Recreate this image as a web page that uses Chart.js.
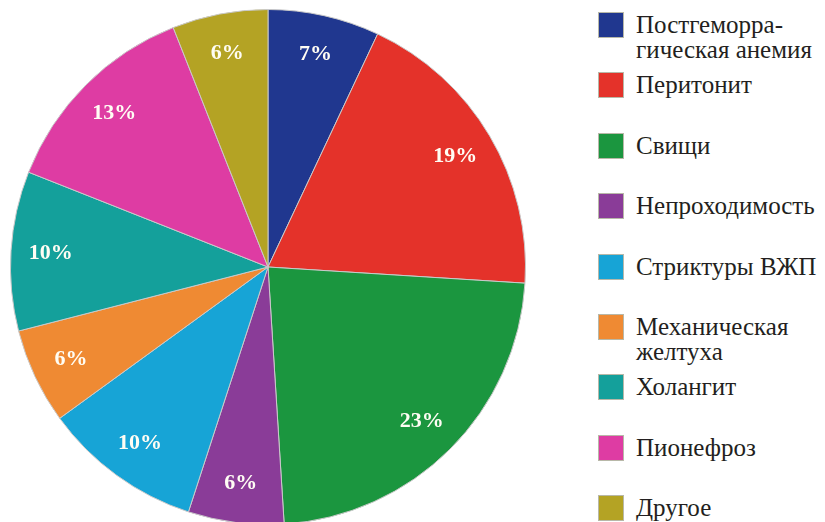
<!DOCTYPE html>
<html>
<head>
<meta charset="utf-8">
<script src="https://cdn.jsdelivr.net/npm/chart.js@4"></script>
<style>
  html, body { margin: 0; padding: 0; background: #fff; overflow: hidden; }
  body { width: 825px; height: 522px; position: relative; font-family: 'Liberation Serif', serif; }
  #pieBox { position: absolute; left: 10px; top: 9px; width: 516px; height: 516px; }
  #legend { position: absolute; left: 598px; top: 0; width: 227px; height: 522px; }
  .item { position: absolute; left: 0; display: flex; align-items: flex-start; }
  .box { width: 26px; height: 26px; box-sizing: border-box; border: 1px solid #b8b8a8; flex: none; }
  .txt { margin-left: 12px; font-size: 25px; line-height: 25px; color: #231f20; white-space: pre; margin-top: 0px; }
</style>
</head>
<body>
<div id="pieBox"><canvas id="pieChart"></canvas></div>
<div id="legend"></div>
<script>
// categories (legend text, line breaks as in the picture)
const categories = [
  'Постгеморра-\nгическая анемия',
  'Перитонит',
  'Свищи',
  'Непроходимость',
  'Стриктуры ВЖП',
  'Механическая\nжелтуха',
  'Холангит',
  'Пионефроз',
  'Другое'
];
// share of each complication, %
const percents = [7, 19, 23, 6, 10, 6, 10, 13, 6];
const sliceColors = [
  '#20378f', '#e4322a', '#1b963f', '#8a3c98', '#17a4d6',
  '#ef8a33', '#14a09b', '#de3ca3', '#b4a324'
];

// build the legend on the right
const legend = document.getElementById('legend');
categories.forEach((name, i) => {
  const item = document.createElement('div');
  item.className = 'item';
  item.style.top = (12 + i * 60.4) + 'px';
  const box = document.createElement('div');
  box.className = 'box';
  box.style.background = sliceColors[i];
  const txt = document.createElement('div');
  txt.className = 'txt';
  txt.textContent = name;
  item.appendChild(box);
  item.appendChild(txt);
  legend.appendChild(item);
});

// percent labels inside the slices
const sliceLabels = {
  id: 'sliceLabels',
  afterDatasetsDraw(chart) {
    const ctx = chart.ctx;
    const meta = chart.getDatasetMeta(0);
    ctx.save();
    ctx.font = 'bold 22px "Liberation Serif", serif';
    ctx.fillStyle = '#fffdf4';
    ctx.textAlign = 'center';
    ctx.textBaseline = 'middle';
    meta.data.forEach((arc, i) => {
      const p = arc.getProps(['x', 'y', 'startAngle', 'endAngle', 'outerRadius'], true);
      const mid = (p.startAngle + p.endAngle) / 2;
      const r = p.outerRadius * 0.845;
      ctx.fillText(percents[i] + '%', p.x + Math.cos(mid) * r, p.y + Math.sin(mid) * r);
    });
    ctx.restore();
  }
};

const ctx = document.getElementById('pieChart').getContext('2d');
const pieChart = new Chart(ctx, {
  type: 'pie',
  data: {
    labels: categories.map(c => c.replace('-\n', '').replace('\n', ' ')),
    datasets: [{
      data: percents,
      backgroundColor: sliceColors,
      borderColor: '#c9c9c9',
      borderWidth: 1
    }]
  },
  options: {
    responsive: true,
    maintainAspectRatio: false,
    animation: false,
    layout: { padding: 0 },
    plugins: {
      legend: { display: false },
      tooltip: { enabled: false }
    }
  },
  plugins: [sliceLabels]
});
</script>
</body>
</html>
